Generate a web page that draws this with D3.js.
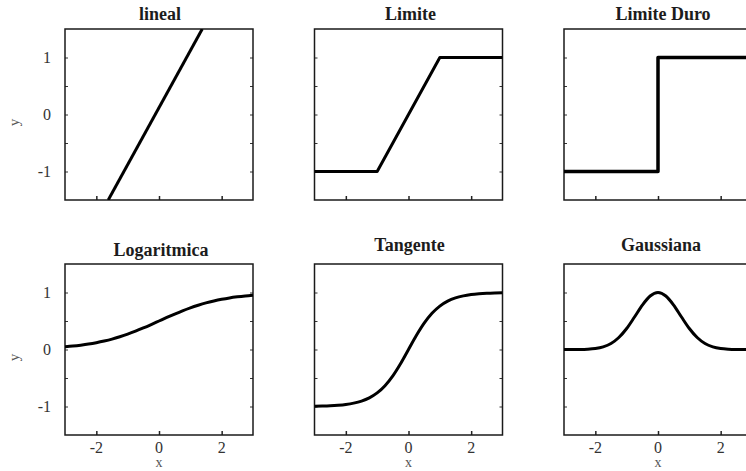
<!DOCTYPE html>
<html>
<head>
<meta charset="utf-8">
<script src="https://cdn.jsdelivr.net/npm/d3@7"></script>
<style>
  html, body { margin: 0; padding: 0; background: #fff; }
  svg { display: block; }
</style>
</head>
<body>
<svg id="chart" width="746" height="471"></svg>
<script>
// ---- data ----
const titles = ["lineal", "Limite", "Limite Duro", "Logaritmica", "Tangente", "Gaussiana"];
const xTicks = [-2, 0, 2];
const yTicks = [-1, -0.5, 0, 0.5, 1];
const yTickLabels = [-1, 0, 1];
const xDomain = [-3, 3];
const yDomain = [-1.5, 1.5];

const linealX = [-1.62, 1.38];
const linealY = [-1.5, 1.5];

const limiteX = [-3, -1, 1, 3];
const limiteY = [-1, -1, 1, 1];

const duroX = [-3, 0, 0, 3];
const duroY = [-1, -1, 1, 1];

const curveX = [-3, -2.75, -2.5, -2.25, -2, -1.75, -1.5, -1.25, -1, -0.75, -0.5, -0.25, 0,
                0.25, 0.5, 0.75, 1, 1.25, 1.5, 1.75, 2, 2.25, 2.5, 2.75, 3];
const logY = [0.047, 0.060, 0.076, 0.095, 0.119, 0.148, 0.182, 0.223, 0.269, 0.321, 0.378, 0.438, 0.5,
              0.562, 0.622, 0.679, 0.731, 0.777, 0.818, 0.852, 0.881, 0.905, 0.924, 0.940, 0.953];
const tanY = [-0.995, -0.992, -0.987, -0.978, -0.964, -0.941, -0.905, -0.848, -0.762, -0.635, -0.462, -0.245, 0,
              0.245, 0.462, 0.635, 0.762, 0.848, 0.905, 0.941, 0.964, 0.978, 0.987, 0.992, 0.995];
const gaussY = [0.000, 0.001, 0.002, 0.006, 0.018, 0.047, 0.105, 0.210, 0.368, 0.570, 0.779, 0.939, 1,
                0.939, 0.779, 0.570, 0.368, 0.210, 0.105, 0.047, 0.018, 0.006, 0.002, 0.001, 0.000];

const seriesX = [linealX, limiteX, duroX, curveX, curveX, curveX];
const seriesY = [linealY, limiteY, duroY, logY, tanY, gaussY];
const smooth = [false, false, false, true, true, true];

// ---- layout ----
const colX = [65, 314.5, 564];
const rowY = [29, 264];
const W = 188, H = 171;
const titleBase = [20, 20, 20, 256, 251, 251];
const titleDx = [1, 2, 5, 2, 1, 3];

const svg = d3.select("#chart");
const x = d3.scaleLinear().domain(xDomain).range([0, W]);
const y = d3.scaleLinear().domain(yDomain).range([H, 0]);

titles.forEach((t, i) => {
  const r = Math.floor(i / 3), c = i % 3;
  const g = svg.append("g").attr("transform", `translate(${colX[c]},${rowY[r]})`);

  g.append("clipPath").attr("id", "clip" + i)
    .append("rect").attr("x", 0).attr("y", 0).attr("width", W).attr("height", H);

  // inward ticks
  const ax = d3.axisBottom(x).tickValues(xTicks).tickSize(-4).tickFormat("");
  g.append("g").attr("transform", `translate(0,${H})`).call(ax)
    .call(s => s.select(".domain").remove())
    .selectAll("line").attr("stroke", "#222").attr("stroke-width", 1.5);
  const ayL = d3.axisLeft(y).tickValues(yTicks).tickSize(-3).tickFormat("");
  g.append("g").call(ayL).call(s => s.select(".domain").remove())
    .selectAll("line").attr("stroke", "#333").attr("stroke-width", 1);
  const ayR = d3.axisRight(y).tickValues(yTicks).tickSize(-3).tickFormat("");
  g.append("g").attr("transform", `translate(${W},0)`).call(ayR).call(s => s.select(".domain").remove())
    .selectAll("line").attr("stroke", "#333").attr("stroke-width", 1);

  // frame
  g.append("rect").attr("x", 0).attr("y", 0).attr("width", W).attr("height", H)
    .attr("fill", "none").attr("stroke", "#1a1a1a").attr("stroke-width", 1.5);

  // data line
  const pts = seriesX[i].map((xv, k) => [xv, seriesY[i][k]]);
  const line = d3.line().x(d => x(d[0])).y(d => y(d[1]))
    .curve(smooth[i] ? d3.curveMonotoneX : d3.curveLinear);
  g.append("path").datum(pts)
    .attr("clip-path", `url(#clip${i})`)
    .attr("d", line)
    .attr("fill", "none").attr("stroke", "#000")
    .attr("stroke-width", i === 2 ? 3.5 : 3)
    .attr("stroke-linejoin", "round");

  // title
  g.append("text").attr("x", W / 2 + titleDx[i]).attr("y", titleBase[i] - rowY[r])
    .attr("text-anchor", "middle")
    .attr("font-family", "'Liberation Serif', 'Times New Roman', serif")
    .attr("font-weight", "bold").attr("font-size", 18).attr("fill", "#1c1c1c")
    .text(t);

  // y tick labels + label on first column
  if (c === 0) {
    g.selectAll(".ylab").data(yTickLabels).enter().append("text")
      .attr("x", -14).attr("y", d => y(d) + 5)
      .attr("text-anchor", "end")
      .attr("font-family", "'Liberation Serif', 'Times New Roman', serif")
      .attr("font-size", 16).attr("fill", "#333")
      .text(d => d);
    g.append("text")
      .attr("transform", `translate(-46,${H / 2 + 8}) rotate(-90)`)
      .attr("text-anchor", "middle")
      .attr("font-family", "'Liberation Serif', 'Times New Roman', serif")
      .attr("font-size", 15).attr("fill", "#555")
      .text("y");
  }
  // x tick labels + label on bottom row
  if (r === 1) {
    g.selectAll(".xlab").data(xTicks).enter().append("text")
      .attr("x", d => x(d)).attr("y", H + 18)
      .attr("text-anchor", "middle")
      .attr("font-family", "'Liberation Serif', 'Times New Roman', serif")
      .attr("font-size", 16).attr("fill", "#333")
      .text(d => d);
    g.append("text")
      .attr("x", W / 2).attr("y", H + 32)
      .attr("text-anchor", "middle")
      .attr("font-family", "'Liberation Serif', 'Times New Roman', serif")
      .attr("font-size", 14).attr("fill", "#555")
      .text("x");
  }
});
</script>
</body>
</html>
